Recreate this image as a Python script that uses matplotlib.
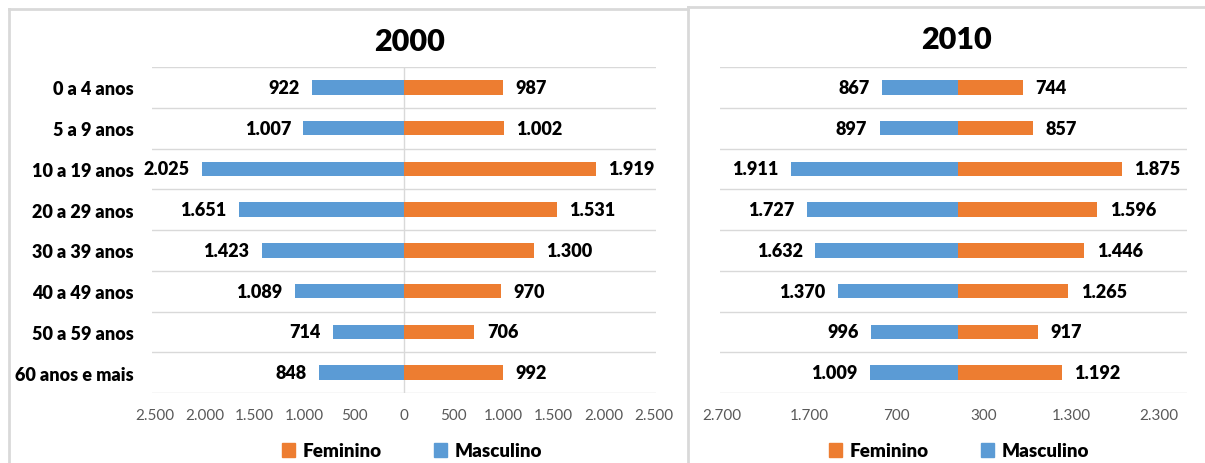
import matplotlib

matplotlib.use("Agg")
import matplotlib.pyplot as plt
from matplotlib.lines import Line2D
from matplotlib.patches import Patch

plt.rcParams["font.family"] = ["Lato", "DejaVu Sans"]

age_groups = [
    "0 a 4 anos",
    "5 a 9 anos",
    "10 a 19 anos",
    "20 a 29 anos",
    "30 a 39 anos",
    "40 a 49 anos",
    "50 a 59 anos",
    "60 anos e mais",
]
fem_2000 = [987, 1002, 1919, 1531, 1300, 970, 706, 992]
masc_2000 = [922, 1007, 2025, 1651, 1423, 1089, 714, 848]
fem_2010 = [744, 857, 1875, 1596, 1446, 1265, 917, 1192]
masc_2010 = [867, 897, 1911, 1727, 1632, 1370, 996, 1009]

ticks_2000 = [-2500, -2000, -1500, -1000, -500, 0, 500, 1000, 1500, 2000, 2500]
ticks_2010 = [-2700, -1700, -700, 300, 1300, 2300]

BLUE = "#5B9BD5"
ORANGE = "#ED7D31"
GRID = "#D9D9D9"
TICK = "#595959"

W, H = 1205, 464


def fmt(v):
    return f"{abs(v):,}".replace(",", ".")


def draw_panel(ax, fem, masc, ticks, xlim, show_labels, zero_line):
    y = list(range(len(age_groups)))
    ax.barh(y, [-m for m in masc], height=0.35, color=BLUE, zorder=3)
    ax.barh(y, fem, height=0.35, color=ORANGE, zorder=3)
    for i, (f, m) in enumerate(zip(fem, masc)):
        ax.annotate(fmt(m), xy=(-m, i), xytext=(-9, 0), textcoords="offset points",
                    ha="right", va="center", fontsize=13, fontweight="heavy")
        ax.annotate(fmt(f), xy=(f, i), xytext=(9, 0), textcoords="offset points",
                    ha="left", va="center", fontsize=13, fontweight="heavy")
    ax.set_xlim(*xlim)
    ax.set_ylim(len(y) - 0.5, -0.5)
    ax.set_yticks(y)
    if show_labels:
        ax.set_yticklabels(age_groups, fontsize=13, fontweight="heavy")
    else:
        ax.set_yticklabels([])
    ax.set_yticks([i - 0.5 for i in range(len(y) + 1)], minor=True)
    ax.grid(axis="y", which="minor", color=GRID, linewidth=1, zorder=0)
    ax.set_xticks(ticks)
    ax.set_xticklabels([fmt(t) for t in ticks], fontsize=11, color=TICK)
    ax.tick_params(axis="both", which="both", length=0)
    ax.tick_params(axis="x", pad=11)
    ax.tick_params(axis="y", pad=13)
    if zero_line:
        ax.axvline(0, color=GRID, linewidth=1, zorder=1)
    for s in ax.spines.values():
        s.set_visible(False)


fig = plt.figure(figsize=(W / 100, H / 100), dpi=100)

ax1 = fig.add_axes([152 / W, 70 / H, 504 / W, 326 / H])
draw_panel(ax1, fem_2000, masc_2000, ticks_2000, (-2525, 2525), True, True)
ax2 = fig.add_axes([720 / W, 70 / H, 467 / W, 326 / H])
draw_panel(ax2, fem_2010, masc_2010, ticks_2010, (-2725, 2625), False, False)

fig.text(410 / W, 1 - 42 / H, "2000", ha="center", va="center", fontsize=22, fontweight="heavy")
fig.text(957 / W, 1 - 40 / H, "2010", ha="center", va="center", fontsize=22, fontweight="heavy")

handles = [Patch(color=ORANGE, label="Feminino"), Patch(color=BLUE, label="Masculino")]
for cx in (412 / W, 959 / W):
    fig.legend(handles=handles, loc="center", bbox_to_anchor=(cx, 12 / H), ncol=2,
               frameon=False, handlelength=0.7, handleheight=0.7, handletextpad=0.4,
               columnspacing=2.8, prop={"size": 13.5, "weight": "heavy"})

# panel frames
fig.add_artist(Line2D([8.5 / W, 8.5 / W], [0, 1 - 9.5 / H], color=GRID, lw=2))
fig.add_artist(Line2D([8.5 / W, 688 / W], [1 - 9.5 / H, 1 - 9.5 / H], color=GRID, lw=2))
fig.add_artist(Line2D([688 / W, 688 / W], [0, 1 - 8 / H], color=GRID, lw=2))
fig.add_artist(Line2D([688 / W, 1], [1 - 8 / H, 1 - 8 / H], color=GRID, lw=2))

fig.savefig("out.png", dpi=100)
